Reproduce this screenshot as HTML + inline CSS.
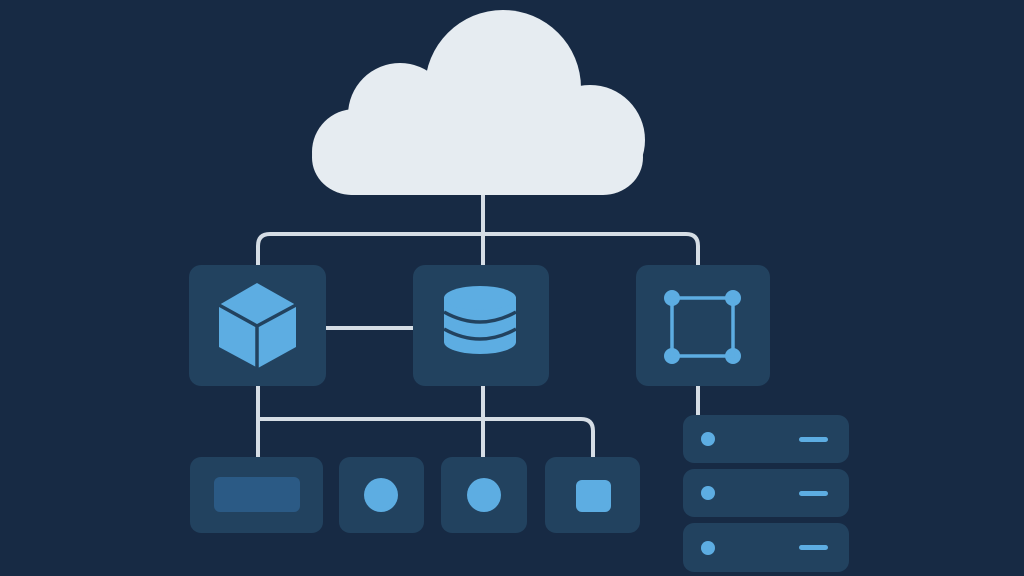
<!DOCTYPE html>
<html><head><style>body{margin:0;background:#172a44}svg{display:block}</style></head><body>
<svg width="1024" height="576" viewBox="0 0 1024 576" xmlns="http://www.w3.org/2000/svg">
<rect width="1024" height="576" fill="#172a44"/>
<g fill="none" stroke="#d5dde5" stroke-width="4">
<path d="M483 190 V265"/>
<path d="M258 265 V246 Q258 234 270 234 H686 Q698 234 698 246 V265"/>
<path d="M326 328 H413"/>
<path d="M258 386 V458"/>
<path d="M483 386 V458"/>
<path d="M258 419 H581 Q593 419 593 431 V458"/>
<path d="M698 386 V415"/>
</g>
<g fill="#e6ecf1">
<circle cx="503" cy="88" r="78"/>
<circle cx="400" cy="115" r="52"/>
<circle cx="355" cy="152" r="43"/>
<circle cx="590" cy="140" r="55"/>
<rect x="312" y="120" width="331" height="75" rx="40"/>
</g>
<g fill="#22425f">
<rect x="189" y="265" width="137" height="121" rx="12"/>
<rect x="413" y="265" width="136" height="121" rx="12"/>
<rect x="636" y="265" width="134" height="121" rx="12"/>
<rect x="190" y="457" width="133" height="76" rx="11"/>
<rect x="339" y="457" width="85" height="76" rx="11"/>
<rect x="441" y="457" width="86" height="76" rx="11"/>
<rect x="545" y="457" width="95" height="76" rx="11"/>
<rect x="683" y="415" width="166" height="48" rx="11"/>
<rect x="683" y="469" width="166" height="48" rx="11"/>
<rect x="683" y="523" width="166" height="49" rx="11"/>
</g>
<rect x="214" y="477" width="86" height="35" rx="6" fill="#2b5a85"/>
<g fill="#5dade2">
<polygon points="257,283 296,305 296,347 258,368 219,347 219,305"/>
<circle cx="381" cy="495" r="17"/>
<circle cx="484" cy="495" r="17"/>
<rect x="576" y="480" width="35" height="32" rx="6"/>
<circle cx="708" cy="439" r="7"/><circle cx="708" cy="493" r="7"/><circle cx="708" cy="548" r="7"/>
<rect x="799" y="437" width="29" height="5" rx="2.5"/>
<rect x="799" y="491" width="29" height="5" rx="2.5"/>
<rect x="799" y="545" width="29" height="5" rx="2.5"/>
<ellipse cx="480" cy="342" rx="36" ry="12"/>
<rect x="444" y="315" width="72" height="27"/>
<ellipse cx="480" cy="326" rx="36" ry="12"/>
<rect x="444" y="298" width="72" height="28"/>
<ellipse cx="480" cy="298" rx="36" ry="12"/>
<circle cx="672" cy="298" r="8"/><circle cx="733" cy="298" r="8"/>
<circle cx="672" cy="356" r="8"/><circle cx="733" cy="356" r="8"/>
</g>
<g fill="none" stroke="#22425f" stroke-width="3.5">
<path d="M219 305 L257 326 L296 305 M257 326 V368"/>
<path d="M444 312 Q480 332 516 312"/>
<path d="M444 329 Q480 349 516 329"/>
</g>
<rect x="672" y="298" width="61" height="58" fill="none" stroke="#5dade2" stroke-width="3.5"/>
</svg>
</body></html>
